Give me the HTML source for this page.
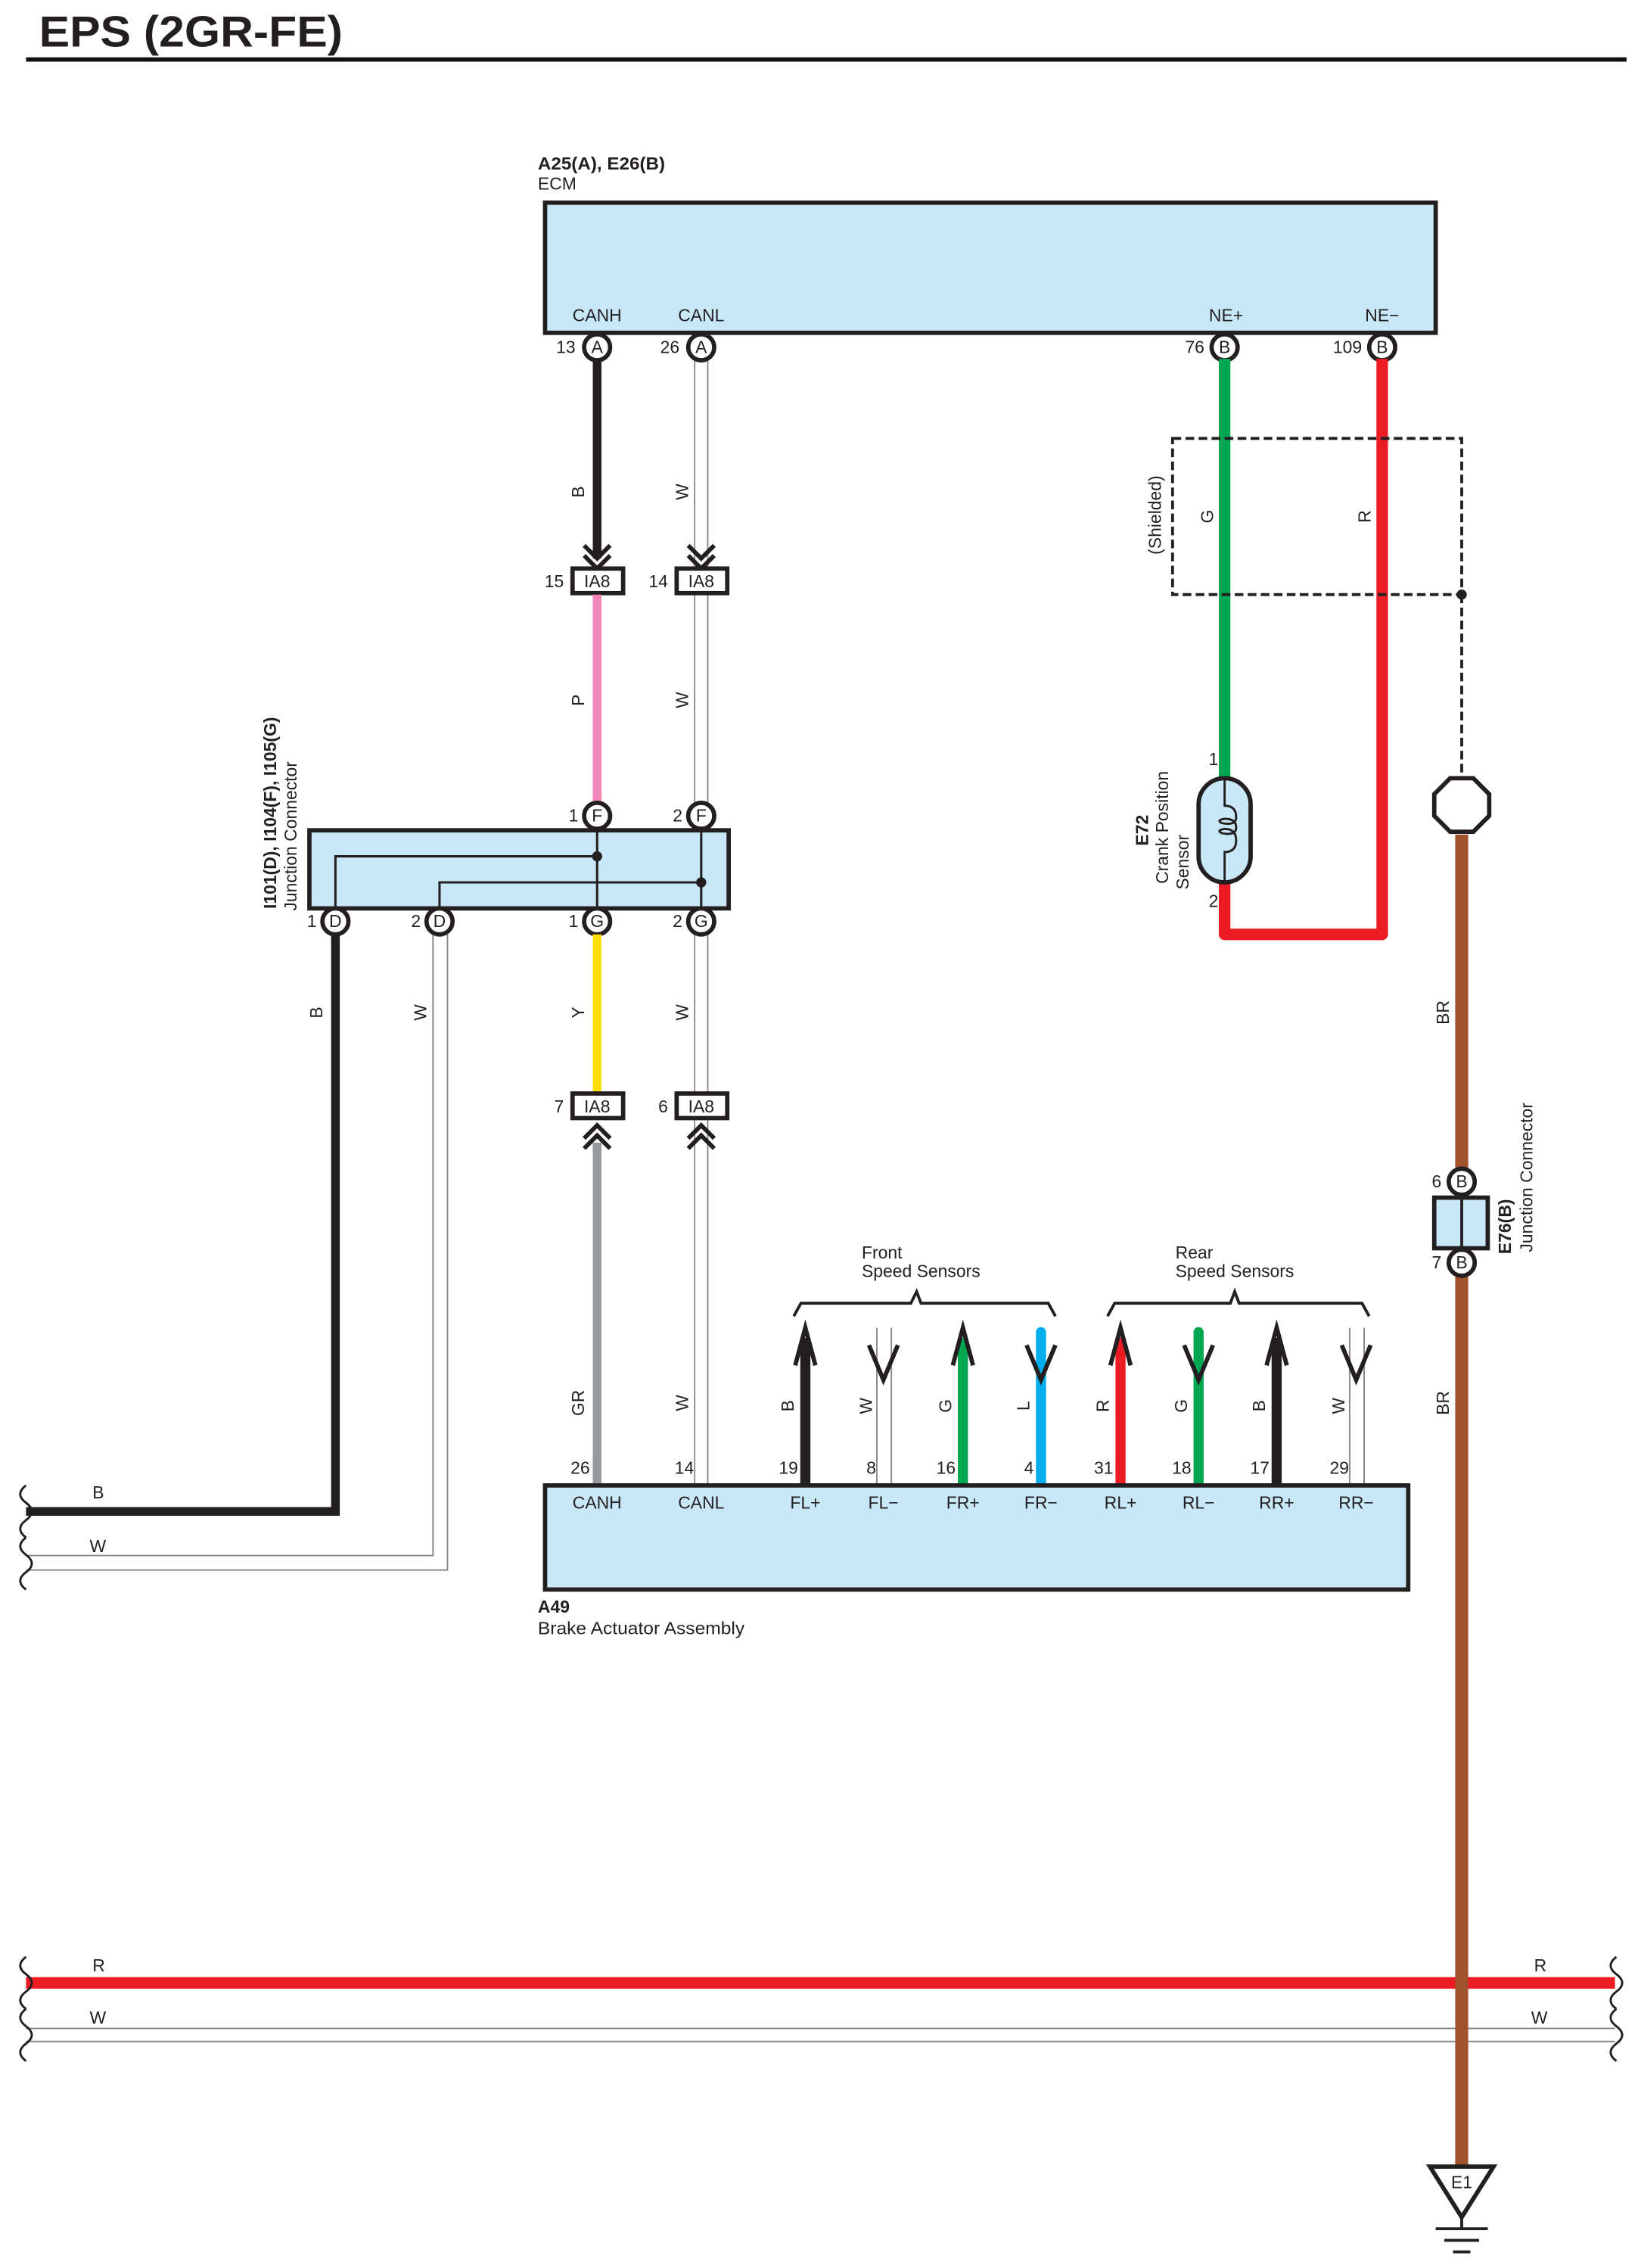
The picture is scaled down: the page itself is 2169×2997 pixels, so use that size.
<!DOCTYPE html>
<html><head><meta charset="utf-8"><style>
html,body{margin:0;padding:0;background:#fff}
svg{display:block}
text{font-family:"Liberation Sans",Arial,sans-serif;fill:#231f20}
</style></head><body>
<svg width="2169" height="2997" viewBox="0 0 1135 1568" xmlns="http://www.w3.org/2000/svg">
<!-- title -->
<text x="27" y="32" font-size="30" font-weight="bold" textLength="210" lengthAdjust="spacingAndGlyphs">EPS (2GR-FE)</text>
<line x1="18" y1="41" x2="1125" y2="41" stroke="#111" stroke-width="3"/>

<!-- ECM -->
<text x="372" y="117" font-size="12" font-weight="bold" textLength="88" lengthAdjust="spacingAndGlyphs">A25(A), E26(B)</text>
<text x="372" y="131" font-size="12">ECM</text>
<rect x="377" y="140" width="616" height="90" fill="#c8e8f8" stroke="#231f20" stroke-width="3"/>
<g font-size="12" text-anchor="middle">
<text x="413" y="222">CANH</text><text x="485" y="222">CANL</text>
<text x="848" y="222">NE+</text><text x="956" y="222">NE−</text>
</g>

<!-- Wires ECM -> IA8 -->
<line x1="413" y1="248" x2="413" y2="386" stroke="#231f20" stroke-width="6"/>
<line x1="480.5" y1="248" x2="480.5" y2="1026" stroke="#888" stroke-width="1"/>
<line x1="489.5" y1="248" x2="489.5" y2="1026" stroke="#888" stroke-width="1"/>
<rect x="481" y="248" width="8" height="778" fill="#fff"/>
<g fill="none" stroke="#231f20" stroke-width="3">
<polyline points="404,377 413,386 422,377"/><polyline points="404,384 413,393 422,384"/>
<polyline points="476,377 485,386 494,377"/><polyline points="476,384 485,393 494,384"/>
</g>
<!-- IA8 top -->
<rect x="396" y="393" width="35" height="17" fill="#fff" stroke="#231f20" stroke-width="3"/>
<rect x="468" y="393" width="35" height="17" fill="#fff" stroke="#231f20" stroke-width="3"/>
<g font-size="12" text-anchor="middle"><text x="413" y="406">IA8</text><text x="485" y="406">IA8</text></g>
<g font-size="12" text-anchor="end"><text x="390" y="406">15</text><text x="462" y="406">14</text></g>
<line x1="413" y1="411" x2="413" y2="557" stroke="#f085b8" stroke-width="6"/>

<!-- ECM pins -->
<g fill="#fff" stroke="#231f20" stroke-width="3">
<circle cx="413" cy="240" r="9"/><circle cx="485" cy="240" r="9"/>
<circle cx="847" cy="240" r="9"/><circle cx="956" cy="240" r="9"/>
</g>
<g font-size="12" text-anchor="middle">
<text x="413" y="244">A</text><text x="485" y="244">A</text><text x="847" y="244">B</text><text x="956" y="244">B</text>
</g>
<g font-size="12" text-anchor="end">
<text x="398" y="244">13</text><text x="470" y="244">26</text><text x="833" y="244">76</text><text x="942" y="244">109</text>
</g>

<!-- rotated wire labels -->
<g font-size="12" text-anchor="middle">
<text transform="translate(404,340) rotate(-90)">B</text>
<text transform="translate(476,340) rotate(-90)">W</text>
<text transform="translate(404,484) rotate(-90)">P</text>
<text transform="translate(476,484) rotate(-90)">W</text>
<text transform="translate(404,700) rotate(-90)">Y</text>
<text transform="translate(476,700) rotate(-90)">W</text>
<text transform="translate(404,970) rotate(-90)">GR</text>
<text transform="translate(476,970) rotate(-90)">W</text>
<text transform="translate(223,700) rotate(-90)">B</text>
<text transform="translate(295,700) rotate(-90)">W</text>
<text transform="translate(839,357) rotate(-90)">G</text>
<text transform="translate(948,357) rotate(-90)">R</text>
<text transform="translate(803,356) rotate(-90)">(Shielded)</text>
<text transform="translate(1002,700) rotate(-90)">BR</text>
<text transform="translate(1002,970) rotate(-90)">BR</text>
</g>

<!-- left wires -->
<path d="M232,645 V1045 H18" fill="none" stroke="#231f20" stroke-width="6"/>
<path d="M299.5,645 V1075.5 H18 M309.5,645 V1085.5 H18" fill="none" stroke="#888" stroke-width="1"/>
<text x="64" y="1036" font-size="12">B</text>
<text x="62" y="1073" font-size="12">W</text>
<path d="M18,1027 q-8,6 0,12 q8,6 0,12 q-8,6 0,12 M18,1063 q-8,6 0,12 q8,6 0,12 q-8,6 0,12" fill="none" stroke="#231f20" stroke-width="1.5"/>

<!-- Junction connector -->
<rect x="214" y="574" width="290" height="54" fill="#c8e8f8" stroke="#231f20" stroke-width="3"/>
<g fill="none" stroke="#231f20" stroke-width="1.6">
<path d="M413,574 V628 M485,574 V628 M232,628 V592 H413 M304,628 V610 H485"/>
</g>
<circle cx="413" cy="592" r="3.5" fill="#231f20"/><circle cx="485" cy="610" r="3.5" fill="#231f20"/>
<g fill="#fff" stroke="#231f20" stroke-width="3">
<circle cx="413" cy="564" r="9"/><circle cx="485" cy="564" r="9"/>
<circle cx="232" cy="637" r="9"/><circle cx="304" cy="637" r="9"/>
<circle cx="413" cy="637" r="9"/><circle cx="485" cy="637" r="9"/>
</g>
<g font-size="12" text-anchor="middle">
<text x="413" y="568">F</text><text x="485" y="568">F</text>
<text x="232" y="641">D</text><text x="304" y="641">D</text>
<text x="413" y="641">G</text><text x="485" y="641">G</text>
</g>
<g font-size="12" text-anchor="end">
<text x="400" y="568">1</text><text x="472" y="568">2</text>
<text x="219" y="641">1</text><text x="291" y="641">2</text>
<text x="400" y="641">1</text><text x="472" y="641">2</text>
</g>
<text transform="translate(191,562) rotate(-90)" font-size="12" font-weight="bold" text-anchor="middle">I101(D), I104(F), I105(G)</text>
<text transform="translate(205,578) rotate(-90)" font-size="12" text-anchor="middle">Junction Connector</text>

<line x1="413" y1="646" x2="413" y2="756" stroke="#ffde00" stroke-width="6"/>
<!-- IA8 bottom -->
<rect x="396" y="756" width="35" height="17" fill="#fff" stroke="#231f20" stroke-width="3"/>
<rect x="468" y="756" width="35" height="17" fill="#fff" stroke="#231f20" stroke-width="3"/>
<g font-size="12" text-anchor="middle"><text x="413" y="769">IA8</text><text x="485" y="769">IA8</text></g>
<g font-size="12" text-anchor="end"><text x="390" y="769">7</text><text x="462" y="769">6</text></g>
<line x1="413" y1="790" x2="413" y2="1026" stroke="#97989b" stroke-width="6"/>
<g fill="none" stroke="#231f20" stroke-width="3">
<polyline points="404,787 413,778 422,787"/><polyline points="404,794 413,785 422,794"/>
<polyline points="476,787 485,778 494,787"/><polyline points="476,794 485,785 494,794"/>
</g>

<!-- Sensor wires -->
<line x1="557" y1="925" x2="557" y2="1026" stroke="#231f20" stroke-width="7"/>
<line x1="666" y1="925" x2="666" y2="1026" stroke="#00a650" stroke-width="7"/>
<line x1="775" y1="925" x2="775" y2="1026" stroke="#ed1c24" stroke-width="7"/>
<line x1="883" y1="925" x2="883" y2="1026" stroke="#231f20" stroke-width="7"/>
<line x1="720" y1="921" x2="720" y2="1026" stroke="#00aeef" stroke-width="7" stroke-linecap="round"/>
<line x1="829" y1="921" x2="829" y2="1026" stroke="#00a650" stroke-width="7" stroke-linecap="round"/>
<path d="M606.5,918 V1026 M616.5,918 V1026 M933.5,918 V1026 M943.5,918 V1026" stroke="#888" stroke-width="1"/>
<g fill="none" stroke="#231f20" stroke-width="3">
<polyline points="550,944 557,918 564,944"/><polyline points="659,944 666,918 673,944"/>
<polyline points="768,944 775,918 782,944"/><polyline points="876,944 883,918 890,944"/>
<polyline points="601,930 611,954 621,930"/><polyline points="710,930 720,954 730,930"/>
<polyline points="819,930 829,954 839,930"/><polyline points="928,930 938,954 948,930"/>
</g>
<g fill="none" stroke="#231f20" stroke-width="2">
<polyline points="549,910 554,901 630,901 634,893 637,901 725,901 730,910"/>
<polyline points="766,910 771,901 851,901 854,893 857,901 942,901 947,910"/>
</g>
<g font-size="12">
<text x="596" y="870">Front</text><text x="596" y="883">Speed Sensors</text>
<text x="813" y="870">Rear</text><text x="813" y="883">Speed Sensors</text>
</g>
<g font-size="12" text-anchor="middle">
<text transform="translate(549,972) rotate(-90)">B</text>
<text transform="translate(603,972) rotate(-90)">W</text>
<text transform="translate(658,972) rotate(-90)">G</text>
<text transform="translate(712,972) rotate(-90)">L</text>
<text transform="translate(767,972) rotate(-90)">R</text>
<text transform="translate(821,972) rotate(-90)">G</text>
<text transform="translate(875,972) rotate(-90)">B</text>
<text transform="translate(930,972) rotate(-90)">W</text>
</g>
<g font-size="12" text-anchor="end">
<text x="408" y="1019">26</text><text x="480" y="1019">14</text>
<text x="552" y="1019">19</text><text x="606" y="1019">8</text><text x="661" y="1019">16</text><text x="715" y="1019">4</text>
<text x="770" y="1019">31</text><text x="824" y="1019">18</text><text x="878" y="1019">17</text><text x="933" y="1019">29</text>
</g>

<!-- Brake actuator -->
<rect x="377" y="1027" width="597" height="72" fill="#c8e8f8" stroke="#231f20" stroke-width="3"/>
<g font-size="12" text-anchor="middle">
<text x="413" y="1043">CANH</text><text x="485" y="1043">CANL</text>
<text x="557" y="1043">FL+</text><text x="611" y="1043">FL−</text><text x="666" y="1043">FR+</text><text x="720" y="1043">FR−</text>
<text x="775" y="1043">RL+</text><text x="829" y="1043">RL−</text><text x="883" y="1043">RR+</text><text x="938" y="1043">RR−</text>
</g>
<text x="372" y="1115" font-size="12" font-weight="bold">A49</text>
<text x="372" y="1130" font-size="12" textLength="143" lengthAdjust="spacingAndGlyphs">Brake Actuator Assembly</text>

<!-- Crank sensor wires -->
<line x1="847" y1="248" x2="847" y2="540" stroke="#00a650" stroke-width="8"/>
<path d="M956,248 V646 H847 V608" fill="none" stroke="#ed1c24" stroke-width="8" stroke-linejoin="round"/>
<rect x="811" y="303" width="200" height="108" fill="none" stroke="#231f20" stroke-width="2" stroke-dasharray="6,3"/>
<line x1="1011" y1="411" x2="1011" y2="537" stroke="#231f20" stroke-width="2" stroke-dasharray="6,3"/>
<circle cx="1011" cy="411" r="3.5" fill="#231f20"/>
<rect x="829" y="538" width="36" height="72" rx="18" fill="#c8e8f8" stroke="#231f20" stroke-width="3"/>
<path d="M847,538 V557 q8,0 8,8 q0,6 -10,4 q-4,-2 2,-3 q8,0 8,6 q0,6 -10,4 q-4,-2 2,-3 q8,0 8,8 q0,8 -8,8 V610" fill="none" stroke="#231f20" stroke-width="1.5"/>
<text x="836" y="529" font-size="12">1</text>
<text x="836" y="627" font-size="12">2</text>
<text transform="translate(794,574) rotate(-90)" font-size="12" font-weight="bold" text-anchor="middle">E72</text>
<text transform="translate(808,572) rotate(-90)" font-size="12" text-anchor="middle">Crank Position</text>
<text transform="translate(822,596) rotate(-90)" font-size="12" text-anchor="middle">Sensor</text>
<polygon points="1003,538 1019,538 1030,549 1030,564 1019,575 1003,575 992,564 992,549" fill="#fff" stroke="#231f20" stroke-width="3"/>

<!-- Ground bus -->
<line x1="18" y1="1371" x2="1117" y2="1371" stroke="#ed1c24" stroke-width="8"/>
<path d="M18,1402.5 H1117 M18,1411.5 H1117" stroke="#888" stroke-width="1"/>
<g font-size="12"><text x="64" y="1363">R</text><text x="1061" y="1363">R</text><text x="62" y="1399">W</text><text x="1059" y="1399">W</text></g>
<path d="M18,1353 q-8,6 0,12 q8,6 0,12 q-8,6 0,12 M18,1389 q-8,6 0,12 q8,6 0,12 q-8,6 0,12 M1118,1353 q-8,6 0,12 q8,6 0,12 q-8,6 0,12 M1118,1389 q-8,6 0,12 q8,6 0,12 q-8,6 0,12" fill="none" stroke="#231f20" stroke-width="1.5"/>

<!-- BR wire -->
<line x1="1011" y1="577" x2="1011" y2="1498" stroke="#a0522d" stroke-width="9"/>
<rect x="992" y="828" width="37" height="35" fill="#c8e8f8" stroke="#231f20" stroke-width="3"/>
<line x1="1011" y1="828" x2="1011" y2="863" stroke="#231f20" stroke-width="2"/>
<g fill="#fff" stroke="#231f20" stroke-width="3"><circle cx="1011" cy="817" r="9"/><circle cx="1011" cy="873" r="9"/></g>
<g font-size="12" text-anchor="middle"><text x="1011" y="821">B</text><text x="1011" y="877">B</text></g>
<g font-size="12" text-anchor="end"><text x="997" y="821">6</text><text x="997" y="877">7</text></g>
<text transform="translate(1045,848) rotate(-90)" font-size="12" font-weight="bold" text-anchor="middle">E76(B)</text>
<text transform="translate(1060,814) rotate(-90)" font-size="12" text-anchor="middle">Junction Connector</text>

<!-- Ground symbol -->
<polygon points="989,1498 1033,1498 1011,1533" fill="#fff" stroke="#231f20" stroke-width="3"/>
<text x="1011" y="1513" font-size="12" text-anchor="middle">E1</text>
<line x1="1011" y1="1533" x2="1011" y2="1541" stroke="#231f20" stroke-width="2"/>
<g stroke="#231f20" stroke-width="2"><line x1="993" y1="1541" x2="1029" y2="1541"/><line x1="999" y1="1549" x2="1023" y2="1549"/><line x1="1005" y1="1557" x2="1017" y2="1557"/></g>
</svg>
</body></html>
